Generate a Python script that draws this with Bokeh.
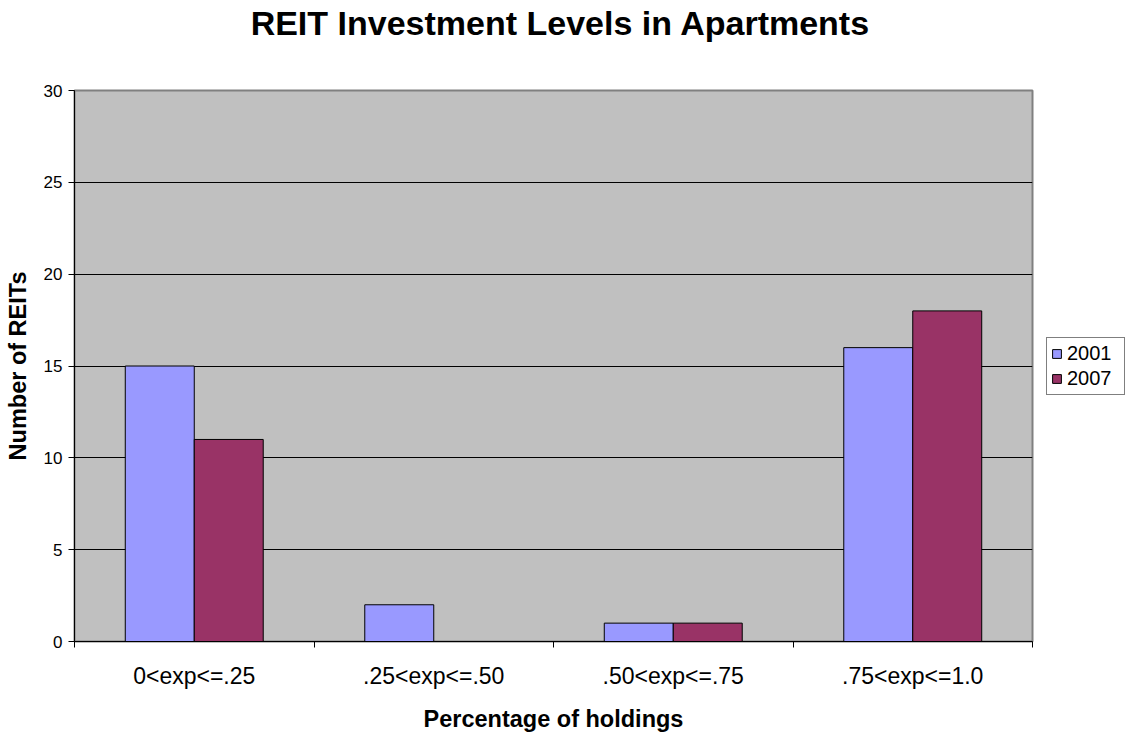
from bokeh.plotting import figure
from bokeh.models import (FixedTicker, Range1d, Legend, LegendItem, ColumnDataSource)
from bokeh.layouts import column, row
from bokeh.transform import dodge
from bokeh.core.properties import value
from bokeh.embed import file_html
from bokeh.resources import INLINE
import numpy as np

title = "REIT Investment Levels in Apartments"
categories = ["0<exp<=.25", ".25<exp<=.50", ".50<exp<=.75", ".75<exp<=1.0"]
series_names = ["2001", "2007"]
series_2001 = [15, 2, 1, 16]
series_2007 = [11, 0, 1, 18]
y_ticks = [0, 5, 10, 15, 20, 25, 30]
colors = ["#9999FF", "#993366"]

FONT = "Liberation Sans"
centers = np.arange(len(categories)) + 0.5
src = ColumnDataSource(dict(x=centers, a=series_2001, b=series_2007))

# ---- title strip ----
TW, TH = 1130, 45
pt = figure(width=TW, height=TH, output_backend="svg", toolbar_location=None,
            x_range=Range1d(0, TW), y_range=Range1d(0, TH),
            x_axis_type=None, y_axis_type=None, min_border=0)
pt.outline_line_color = None
pt.grid.visible = False
pt.text(x=[560], y=[23], text=[title], text_font=value(FONT), text_font_size="34px",
        text_font_style="bold", text_color="black", text_align="center",
        text_baseline="middle")

# ---- main chart ----
p = figure(frame_width=958, frame_height=551, output_backend="svg", toolbar_location=None,
           x_range=Range1d(0, len(categories)), y_range=Range1d(0, 30),
           min_border_left=74, min_border_right=8, min_border_top=45, min_border_bottom=92,
           border_fill_color="white")
p.background_fill_color = "#C0C0C0"
p.outline_line_color = "#808080"
p.outline_line_width = 2

bw = 0.288
r1 = p.vbar(x=dodge("x", -bw / 2, range=p.x_range), top="a", width=bw, source=src,
            fill_color=colors[0], line_color="black", line_width=1)
r2 = p.vbar(x=dodge("x", bw / 2, range=p.x_range), top="b", width=bw, source=src,
            fill_color=colors[1], line_color="black", line_width=1)

# x axis: labels at category centres, ticks at category boundaries (minor ticks)
xa = p.xaxis[0]
xa.ticker = FixedTicker(ticks=list(centers), minor_ticks=list(range(len(categories) + 1)))
xa.major_label_overrides = {float(c): lab for c, lab in zip(centers, categories)}
xa.major_tick_line_color = None
xa.minor_tick_line_color = "black"
xa.minor_tick_in = 0
xa.minor_tick_out = 6
xa.axis_line_color = "black"
xa.major_label_text_font = FONT
xa.major_label_text_font_size = "23px"
xa.major_label_text_color = "black"
xa.major_label_standoff = 15
xa.axis_label = "Percentage of holdings"
xa.axis_label_text_font = FONT
xa.axis_label_text_font_size = "23.5px"
xa.axis_label_text_font_style = "bold"
xa.axis_label_text_color = "black"
xa.axis_label_standoff = 14

ya = p.yaxis[0]
ya.ticker = FixedTicker(ticks=y_ticks)
ya.minor_tick_line_color = None
ya.major_tick_in = 0
ya.major_tick_out = 6
ya.axis_line_color = "black"
ya.major_label_text_font = FONT
ya.major_label_text_font_size = "17px"
ya.major_label_text_color = "black"
ya.major_label_standoff = 6
ya.axis_label = "Number of REITs"
ya.axis_label_text_font = FONT
ya.axis_label_text_font_size = "23.5px"
ya.axis_label_text_font_style = "bold"
ya.axis_label_text_color = "black"
ya.axis_label_standoff = 10

p.xgrid.grid_line_color = None
p.ygrid.grid_line_color = "black"
p.ygrid.grid_line_width = 1

# ---- legend strip (its own figure, so the legend sits outside the chart frame) ----
# The strip's ranges squeeze its copy of the bars into the area covered by the
# opaque legend box, so only the legend (with its swatches) is visible.
LW = 1130 - (74 + 958 + 8)
LH = 45 + 551 + 92
pl = figure(width=LW, height=LH, output_backend="svg", toolbar_location=None,
            x_range=Range1d(-0.114, 4.11), y_range=Range1d(-93.75, 112.9),
            x_axis_type=None, y_axis_type=None, min_border=0)
pl.outline_line_color = None
pl.grid.visible = False
lr1 = pl.vbar(x="x", top="a", width=bw, source=src, fill_color=colors[0], line_color="black")
lr2 = pl.vbar(x="x", top="b", width=bw, source=src, fill_color=colors[1], line_color="black")
legend = Legend(items=[LegendItem(label=series_names[0], renderers=[lr1]),
                       LegendItem(label=series_names[1], renderers=[lr2])],
                location=(6, 245), border_line_color="black", border_line_width=1,
                background_fill_color="white", background_fill_alpha=1,
                label_text_font=FONT, label_text_font_size="20px", label_text_color="black",
                glyph_width=11, glyph_height=11, padding=4, spacing=2,
                label_standoff=5, margin=0, label_height=21, label_width=53)
pl.add_layout(legend)

layout = column(pt, row(p, pl))
open("out.html", "w").write(file_html(layout, INLINE))
